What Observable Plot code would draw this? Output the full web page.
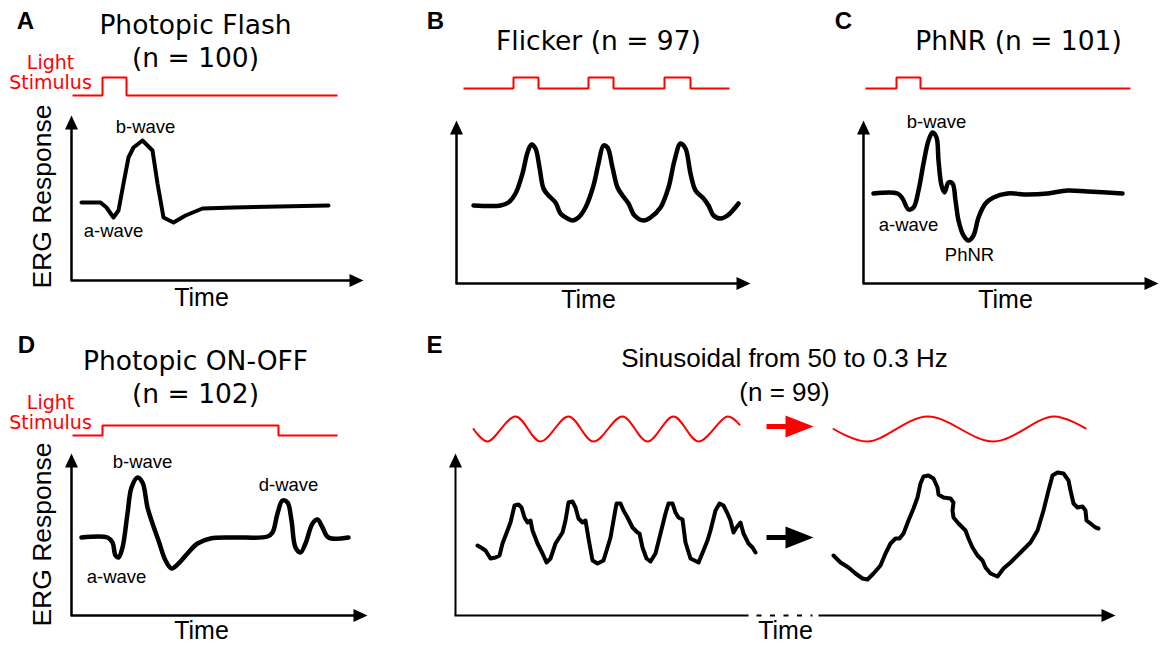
<!DOCTYPE html>
<html>
<head>
<meta charset="utf-8">
<script src="https://cdn.jsdelivr.net/npm/d3@7"></script>
<script src="https://cdn.jsdelivr.net/npm/@observablehq/plot@0.6"></script>
<style>
  html, body { margin: 0; padding: 0; background: #ffffff; overflow: hidden; }
  #chart svg { display: block; }
</style>
</head>
<body>
<div id="chart"></div>
<script>
// ===================== DATA (schematic units: time →, response ↑) =====================
// Panel A – Photopic flash
const flashTime = [10, 29, 35, 42, 47, 52, 57, 62, 71, 81, 86, 92, 102, 114, 131, 162, 257];
const flashResp = [78, 78, 73, 63, 70, 97, 123, 133, 140, 130, 97, 63, 58, 65, 72, 73, 75];
const flashStimTime = [1, 31, 55, 266];
const flashStimOn = [0, 1, 0, 0];

// Panel B – Flicker
const flickerTime = [17, 44, 52, 59, 66, 71, 75, 79, 83, 87, 92, 99, 104, 111, 116, 122, 129, 137, 142, 147,
  151, 156, 161, 166, 172, 178, 187, 194, 204, 212, 218, 224, 229, 234, 239, 247, 252, 257, 264, 271, 282];
const flickerResp = [78, 78, 81, 90, 110, 131, 139, 135, 116, 95, 88, 81, 70, 65, 63, 66, 76, 98, 120, 138,
  136, 116, 96, 88, 80, 68, 63, 66, 76, 96, 123, 140, 135, 110, 93, 85, 78, 68, 65, 68, 80];
const flickerStimTime = [7, 57, 82, 132, 157, 208, 234, 273];
const flickerStimOn = [0, 1, 0, 1, 0, 1, 0, 0];

// Panel C – PhNR
const phnrTime = [10, 34, 39, 45, 50, 55, 60, 65, 69, 73, 75, 78, 81, 85, 89, 92, 95, 100, 105, 110,
  115, 122, 130, 144, 164, 184, 204, 224, 259];
const phnrResp = [90, 90, 85, 74, 76, 93, 120, 143, 151, 146, 123, 98, 91, 101, 100, 83, 63, 48, 43, 48,
  66, 80, 86, 90, 89, 90, 93, 92, 90];
const phnrStimTime = [2, 33, 57, 267];
const phnrStimOn = [0, 1, 0, 0];

// Panel D – Photopic ON-OFF
const onoffTime = [10, 36, 41, 44, 47, 51, 56, 60, 66, 71, 76, 81, 87, 94, 100, 107, 116, 126, 139, 162,
  196, 201, 206, 211, 216, 220, 224, 229, 234, 241, 246, 251, 257, 277];
const onoffResp = [78, 78, 73, 60, 58, 68, 102, 128, 138, 133, 108, 92, 75, 55, 47, 52, 62, 72, 77, 78,
  79, 83, 102, 115, 113, 95, 68, 63, 72, 92, 96, 88, 78, 78];
const onoffStimTime = [1, 31, 207, 266];
const onoffStimOn = [0, 1, 0, 0];

// Panel E – Sinusoidal (fast part, then slow part)
const sineFastTime = [22, 27, 30, 35, 40, 44, 47, 52, 55, 59, 63, 66, 69, 72, 75, 77, 82, 87, 91, 95,
  100, 107, 110, 113, 117, 120, 123, 127, 130, 133, 137, 142, 148, 152, 155, 158, 161, 165, 168, 172,
  177, 182, 184, 187, 191, 195, 200, 205, 210, 213, 217, 220, 223, 227, 230, 235, 239, 243, 248, 252,
  255, 260, 264, 268, 272, 275, 278, 281, 285, 288, 293, 297, 300];
const sineFastResp = [70, 67, 65, 57, 58, 60, 72, 85, 93, 110, 111, 108, 98, 93, 95, 85, 72, 62, 53, 57,
  72, 83, 95, 113, 114, 108, 97, 93, 95, 77, 55, 52, 55, 68, 78, 95, 112, 112, 105, 98,
  88, 83, 82, 68, 57, 54, 62, 82, 102, 112, 112, 103, 98, 96, 73, 57, 55, 53, 65, 75,
  85, 105, 112, 110, 102, 95, 83, 88, 93, 82, 72, 68, 63];
const sineSlowTime = [378, 385, 393, 400, 407, 412, 418, 425, 430, 435, 440, 444, 448, 453, 458, 462, 465, 468, 473, 478,
  482, 483, 488, 495, 498, 497, 498, 503, 510, 513, 517, 522, 527, 530, 535, 542, 548, 555, 565, 575,
  582, 588, 593, 597, 602, 608, 613, 615, 618, 622, 627, 630, 631, 635, 640, 643];
const sineSlowResp = [60, 53, 48, 42, 37, 36, 42, 50, 62, 72, 77, 77, 82, 95, 107, 118, 132, 139, 140, 137,
  128, 121, 118, 117, 113, 105, 98, 92, 85, 77, 68, 60, 55, 48, 42, 39, 47, 53, 63, 73,
  85, 105, 125, 140, 143, 142, 135, 125, 112, 108, 109, 105, 95, 92, 88, 87];
const stimFastTime = [18, 32, 60, 85, 113, 138, 167, 192, 218, 243, 272, 284];
const stimFastLevel = [0, -1, 1, -1, 1, -1, 1, -1, 1, -1, 1, 0.35];
const stimSlowTime = [378, 412, 472, 538, 598, 630];
const stimSlowLevel = [0, -1, 1, -1, 1, 0.05];

// Texts
const panelIds = ["A", "B", "C", "D", "E"];
const panelTitles = ["Photopic Flash\n(n = 100)", "Flicker (n = 97)", "PhNR (n = 101)",
  "Photopic ON-OFF\n(n = 102)", "Sinusoidal from 50 to 0.3 Hz\n(n = 99)"];
const timeLabel = "Time";
const responseLabel = "ERG Response";
const stimulusLabel = "Light\nStimulus";
const waveNames = ["b-wave", "a-wave", "b-wave", "a-wave", "PhNR", "b-wave", "a-wave", "d-wave"];
const wavePanels = ["A", "A", "C", "C", "C", "D", "D", "D"];

// ===================== LAYOUT (pixels) =====================
const layout = {
  A: {ox: 71, oy: 280, w: 292, h: 165, letter: [25, 28], title: [195, 66], tfont: "DejaVu Sans", tsize: 26.5, tlh: 1.21,
      time: [201, 305], erg: [50, 196], light: [50, 88], stimBase: 185, stimAmp: 18, line: 4},
  B: {ox: 456, oy: 283, w: 294, h: 163, letter: [435, 28], title: [598, 49], tfont: "DejaVu Sans", tsize: 26.5, tlh: 1.21,
      time: [588, 307], stimBase: 195, stimAmp: 11, line: 4.5},
  C: {ox: 863, oy: 283, w: 295, h: 163, letter: [843, 28], title: [1018, 49], tfont: "DejaVu Sans", tsize: 26.5, tlh: 1.21,
      time: [1005, 307], stimBase: 195, stimAmp: 11, line: 4.5},
  D: {ox: 71, oy: 615, w: 296, h: 162, letter: [26, 352], title: [195, 402], tfont: "DejaVu Sans", tsize: 26.5, tlh: 1.21,
      time: [201, 638], erg: [50, 534], light: [50, 428], stimBase: 180, stimAmp: 10, line: 4.5},
  E: {ox: 455, oy: 615, w: 660, h: 162, letter: [434, 352], title: [784, 400], tfont: "Liberation Sans", tsize: 26, tlh: 1.27,
      time: [785, 638], sineCenter: 186.5, sineAmp: 12.5, line: 4,
      gap: [293, 363], dash: [301, 357], arrowFrom: 311, arrowTo: 358, arrowRed: 189, arrowBlack: 78}
};
const waveLabelPos = [[74, 148], [42, 44], [73, 156], [45, 53], [106, 23], [71, 148], [45, 33], [217, 125]];

// ===================== BUILD =====================
const RED = "#ff0000";
const toXY = (p, ts, vs) => ts.map((t, i) => ({x: p.ox + t, y: p.oy - vs[i]}));
const stepXY = (p, ts, on) => ts.map((t, i) => ({x: p.ox + t, y: p.oy - (p.stimBase + p.stimAmp * on[i])}));
const sineXY = (p, ts, lv) => ts.map((t, i) => ({x: p.ox + t, y: p.oy - (p.sineCenter + p.sineAmp * lv[i])}));

const head = (L, Wd) => ({draw(ctx) { ctx.moveTo(0, 0); ctx.lineTo(-L, -Wd); ctx.lineTo(-L, Wd); ctx.closePath(); }});
const axisHead = head(14, 6.5);
const bigHead = head(28, 11);

const L = layout;
const responses = [
  {p: L.A, d: toXY(L.A, flashTime, flashResp), curve: "linear"},
  {p: L.B, d: toXY(L.B, flickerTime, flickerResp), curve: "catmull-rom"},
  {p: L.C, d: toXY(L.C, phnrTime, phnrResp), curve: "catmull-rom"},
  {p: L.D, d: toXY(L.D, onoffTime, onoffResp), curve: "catmull-rom"},
  {p: L.E, d: toXY(L.E, sineFastTime, sineFastResp), curve: "linear"},
  {p: L.E, d: toXY(L.E, sineSlowTime, sineSlowResp), curve: "linear"}
];
const steps = [
  stepXY(L.A, flashStimTime, flashStimOn),
  stepXY(L.B, flickerStimTime, flickerStimOn),
  stepXY(L.C, phnrStimTime, phnrStimOn),
  stepXY(L.D, onoffStimTime, onoffStimOn)
];
const sines = [sineXY(L.E, stimFastTime, stimFastLevel), sineXY(L.E, stimSlowTime, stimSlowLevel)];

// axes
const axisLines = [];
const upHeads = [], rightHeads = [];
for (const id of panelIds) {
  const p = L[id];
  const sw = id === "E" ? 2 : 2.5;
  axisLines.push({x1: p.ox, y1: p.oy, x2: p.ox, y2: p.oy - p.h + 8, sw, dash: null});
  if (p.gap) {
    axisLines.push({x1: p.ox - 1, y1: p.oy, x2: p.ox + p.gap[0], y2: p.oy, sw, dash: null});
    axisLines.push({x1: p.ox + p.dash[0], y1: p.oy, x2: p.ox + p.dash[1], y2: p.oy, sw, dash: "5,8.5"});
    axisLines.push({x1: p.ox + p.gap[1], y1: p.oy, x2: p.ox + p.w - 8, y2: p.oy, sw, dash: null});
  } else {
    axisLines.push({x1: p.ox - 1, y1: p.oy, x2: p.ox + p.w - 8, y2: p.oy, sw, dash: null});
  }
  upHeads.push({x: p.ox, y: p.oy - p.h});
  rightHeads.push({x: p.ox + p.w, y: p.oy});
}

const letters = panelIds.map(id => ({x: L[id].letter[0], y: L[id].letter[1], t: id}));
const titles = panelIds.map((id, i) => ({x: L[id].title[0], y: L[id].title[1], t: panelTitles[i], f: L[id].tfont, s: L[id].tsize, lh: L[id].tlh}));
const times = panelIds.map(id => ({x: L[id].time[0], y: L[id].time[1], t: timeLabel}));
const ergs = ["A", "D"].map(id => ({x: L[id].erg[0], y: L[id].erg[1], t: responseLabel}));
const lights = ["A", "D"].map(id => ({x: L[id].light[0], y: L[id].light[1], t: stimulusLabel}));
const waves = waveNames.map((n, i) => {
  const p = L[wavePanels[i]];
  return {x: p.ox + waveLabelPos[i][0], y: p.oy - waveLabelPos[i][1], t: n};
});
const E = L.E;
const bigArrows = [
  {x1: E.ox + E.arrowFrom, x2: E.ox + E.arrowTo - 20, y: E.oy - E.arrowRed, c: RED},
  {x1: E.ox + E.arrowFrom, x2: E.ox + E.arrowTo - 20, y: E.oy - E.arrowBlack, c: "black"}
];
const bigHeads = bigArrows.map(a => ({x: E.ox + E.arrowTo, y: a.y, c: a.c}));

const marks = [];
// stimulus traces
for (const s of steps) marks.push(Plot.line(s, {x: "x", y: "y", curve: "step-after", stroke: RED, strokeWidth: 2, strokeLinejoin: "miter", strokeLinecap: "butt"}));
for (const s of sines) marks.push(Plot.line(s, {x: "x", y: "y", curve: "catmull-rom", stroke: RED, strokeWidth: 2}));
// responses
for (const r of responses) marks.push(Plot.line(r.d, {x: "x", y: "y", curve: r.curve, stroke: "black", strokeWidth: r.p.line, strokeLinejoin: "round", strokeLinecap: "round"}));
// axes
marks.push(Plot.link(axisLines.filter(a => !a.dash && a.sw === 2.5), {x1: "x1", y1: "y1", x2: "x2", y2: "y2", stroke: "black", strokeWidth: 2.5, strokeLinecap: "butt"}));
marks.push(Plot.link(axisLines.filter(a => !a.dash && a.sw === 2), {x1: "x1", y1: "y1", x2: "x2", y2: "y2", stroke: "black", strokeWidth: 2, strokeLinecap: "butt"}));
marks.push(Plot.link(axisLines.filter(a => a.dash), {x1: "x1", y1: "y1", x2: "x2", y2: "y2", stroke: "black", strokeWidth: 2, strokeDasharray: "5,8.5", strokeLinecap: "butt"}));
marks.push(Plot.dot(upHeads, {x: "x", y: "y", symbol: axisHead, rotate: -90, fill: "black", stroke: "none", r: 5}));
marks.push(Plot.dot(rightHeads, {x: "x", y: "y", symbol: axisHead, fill: "black", stroke: "none", r: 5}));
// big arrows in E
marks.push(Plot.link(bigArrows, {x1: "x1", y1: "y", x2: "x2", y2: "y", stroke: "c", strokeWidth: 5, strokeLinecap: "butt"}));
marks.push(Plot.dot(bigHeads, {x: "x", y: "y", symbol: bigHead, fill: "c", stroke: "none", r: 5}));
// texts
marks.push(Plot.text(letters, {x: "x", y: "y", text: "t", fontFamily: "Liberation Sans", fontWeight: "bold", fontSize: 24, textAnchor: "middle", lineAnchor: "bottom", fill: "black"}));
for (const t of titles) marks.push(Plot.text([t], {x: "x", y: "y", text: "t", fontFamily: t.f, fontSize: t.s, lineHeight: t.lh, textAnchor: "middle", lineAnchor: "bottom", fill: "black"}));
marks.push(Plot.text(times, {x: "x", y: "y", text: "t", fontFamily: "Liberation Sans", fontSize: 25, textAnchor: "middle", lineAnchor: "bottom", fill: "black"}));
marks.push(Plot.text(ergs, {x: "x", y: "y", text: "t", fontFamily: "Liberation Sans", fontSize: 26.5, rotate: -90, textAnchor: "middle", lineAnchor: "bottom", fill: "black"}));
marks.push(Plot.text(lights, {x: "x", y: "y", text: "t", fontFamily: "DejaVu Sans", fontSize: 19, lineHeight: 1.05, textAnchor: "middle", lineAnchor: "bottom", fill: RED}));
marks.push(Plot.text(waves, {x: "x", y: "y", text: "t", fontFamily: "Liberation Sans", fontSize: 18.5, textAnchor: "middle", lineAnchor: "bottom", fill: "black"}));

const chart = Plot.plot({
  width: 1161,
  height: 646,
  margin: 0,
  x: {domain: [0, 1161], range: [0, 1161], axis: null},
  y: {domain: [0, 646], range: [0, 646], axis: null},
  style: {background: "#ffffff", fontFamily: "DejaVu Sans"},
  marks
});
document.getElementById("chart").appendChild(chart);
</script>
</body>
</html>
